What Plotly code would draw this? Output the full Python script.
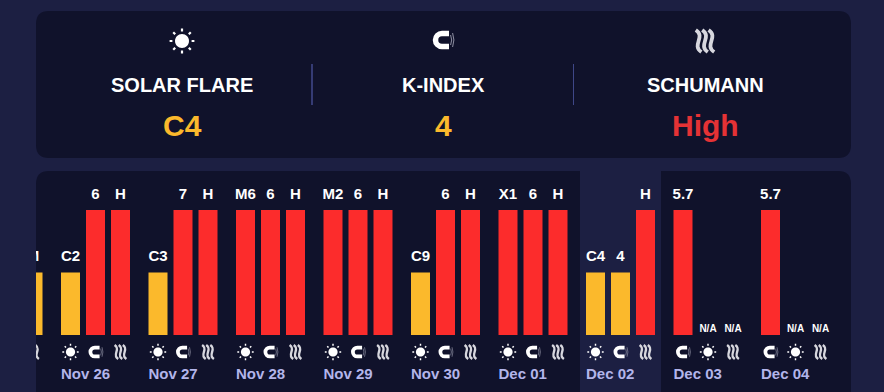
import plotly.graph_objects as go

# ---------- data ----------
days = ["Nov 26", "Nov 27", "Nov 28", "Nov 29", "Nov 30", "Dec 01", "Dec 02", "Dec 03", "Dec 04"]
flare_labels = ["C2", "C3", "M6", "M2", "C9", "X1", "C4", "N/A", "N/A"]
flare_values = [50, 50, 100, 100, 50, 100, 50, 0, 0]
k_labels = ["6", "7", "6", "6", "6", "6", "4", "5.7", "5.7"]
k_values = [100, 100, 100, 100, 100, 100, 50, 100, 100]
schumann_labels = ["H", "H", "H", "H", "H", "H", "H", "N/A", "N/A"]
schumann_values = [100, 100, 100, 100, 100, 100, 100, 0, 0]
# which metric sits in each of the three slots of a day
slot_orders = [["flare", "k", "s"]] * 7 + [["k", "flare", "s"]] * 2
# the day cut off by the left edge: only its last bar is in view
partial_day = -1
partial_label = "M"
partial_value = 50
summary_titles = ["SOLAR FLARE", "K-INDEX", "SCHUMANN"]
summary_values = ["C4", "4", "High"]
summary_colors = ["#fbb92c", "#fbb92c", "#e53235"]
today_index = 6

# ---------- style ----------
W, H = 884, 392
PAGE = "#1c1f42"
PANEL = "#10122b"
RED = "#fc2c2c"
YELLOW = "#fbb92c"
DATE = "#b3b5ea"
FONT = "Liberation Sans"
DAY_PX, SLOT_PX, BAR_PX, PX_PER_UNIT = 87.5, 25, 19, 1.25
PANEL_L, PANEL_R, PANEL_T = 36, 851, 171
BASE_Y = 335
X0 = (PANEL_L - 95.5) / DAY_PX
X1 = (PANEL_R - 95.5) / DAY_PX
Y0 = (BASE_Y - H) / PX_PER_UNIT
Y1 = (BASE_Y - PANEL_T) / PX_PER_UNIT
slot_step = SLOT_PX / DAY_PX
metrics = {
    "flare": (flare_labels, flare_values),
    "k": (k_labels, k_values),
    "s": (schumann_labels, schumann_values),
}


def fmt(v):
    return f"{v:.2f}"


def P(cmd, *pts):
    return cmd + " ".join(f"{fmt(x)} {fmt(-y)}" for x, y in pts)


def circle(cx, cy, r):
    k = 0.5523 * r
    return (P("M", (cx + r, cy))
            + P("C", (cx + r, cy + k), (cx + k, cy + r), (cx, cy + r))
            + P("C", (cx - k, cy + r), (cx - r, cy + k), (cx - r, cy))
            + P("C", (cx - r, cy - k), (cx - k, cy - r), (cx, cy - r))
            + P("C", (cx + k, cy - r), (cx + r, cy - k), (cx + r, cy)) + "Z")


def sun_shapes(s):
    d = 0.7071
    path = circle(0, 0, 7.0 * s)
    rays = ""
    for ux, uy in [(1, 0), (-1, 0), (0, 1), (0, -1), (d, d), (d, -d), (-d, d), (-d, -d)]:
        rays += P("M", (ux * 9.6 * s, uy * 9.6 * s)) + P("L", (ux * 12.4 * s, uy * 12.4 * s))
    return [
        dict(path=path, fillcolor="#ffffff", line=dict(width=0)),
        dict(path=rays, line=dict(color="#ffffff", width=2.2 * s)),
    ]


def magnet_shapes(s):
    r = 6.5 * s
    cx, e = -1.0 * s, 6 * s
    k = 0.5523 * r
    body = (P("M", (e, -r)) + P("L", (cx, -r))
            + P("C", (cx - k, -r), (cx - r, -k), (cx - r, 0))
            + P("C", (cx - r, k), (cx - k, r), (cx, r))
            + P("L", (e, r)))
    wave = (P("M", (7.6 * s, -5.0 * s)) + P("Q", (9.8 * s, 0), (7.6 * s, 5.0 * s))
            + P("M", (9.6 * s, -7 * s)) + P("Q", (12.2 * s, 0), (9.6 * s, 7 * s)))
    return [
        dict(path=body, line=dict(color="#ffffff", width=5.5 * s)),
        dict(path=wave, line=dict(color="#8f90a3", width=1.0 * s)),
    ]


def wave_shapes(s):
    path = ""
    for x in (-6.4 * s, 0, 6.4 * s):
        path += (P("M", (x - 2.8 * s, -11 * s))
                 + P("C", (x + 7.5 * s, -4 * s), (x - 7.5 * s, 4 * s), (x + 2.8 * s, 11 * s)))
    return [dict(path=path, line=dict(color="#d7d7de", width=3.8 * s))]


ICONS = {"flare": sun_shapes, "k": magnet_shapes, "s": wave_shapes}


def placed(parts, **ref):
    out = []
    for p in parts:
        q = dict(type="path", xsizemode="pixel", ysizemode="pixel", layer="above")
        q.update(ref)
        q.update(p)
        q.setdefault("fillcolor", "rgba(0,0,0,0)")
        out.append(q)
    return out


def rounded(x0, y0, x1, y1, r):
    return (P("M", (x0 + r, y0)) + P("L", (x1 - r, y0)) + P("Q", (x1, y0), (x1, y0 + r))
            + P("L", (x1, y1 - r)) + P("Q", (x1, y1), (x1 - r, y1)) + P("L", (x0 + r, y1))
            + P("Q", (x0, y1), (x0, y1 - r)) + P("L", (x0, y0 + r)) + P("Q", (x0, y0), (x0 + r, y0)) + "Z")


shapes = []
for top, bottom in [(11, 158), (PANEL_T, H + 30)]:
    shapes.append(dict(type="path", xref="paper", yref="paper", xsizemode="pixel", ysizemode="pixel",
                       xanchor=0, yanchor=1, layer="below",
                       path=rounded(PANEL_L, top, PANEL_R, bottom, 13),
                       fillcolor=PANEL, line=dict(width=0)))
for px, w, col in [(312, 1.6, "#3f4788"), (573.5, 1.0, "#3f4788")]:
    shapes.append(dict(type="line", xref="paper", yref="paper", layer="below",
                       x0=px / W, x1=px / W, y0=1 - 64 / H, y1=1 - 105 / H,
                       line=dict(color=col, width=w)))
shapes.append(dict(type="rect", xref="x", yref="paper", layer="below",
                   x0=today_index - 40.5 / DAY_PX, x1=today_index + 40.5 / DAY_PX,
                   y0=0, y1=(H - PANEL_T) / H, fillcolor=PAGE, line=dict(width=0)))

# summary icons
for cx, cy, key in [(182, 41, "flare"), (443, 40, "k"), (705, 41, "s")]:
    shapes += placed(ICONS[key](1.0), xref="paper", yref="paper", xanchor=cx / W, yanchor=1 - cy / H)

# bars, labels and day icons
bar_x, bar_y, bar_c = [], [], []
lab_x, lab_y, lab_t = [], [], []
na_x, na_y, na_t = [], [], []
icon_y = (BASE_Y - 352) / PX_PER_UNIT


def add_mark(x, value, label, key):
    if value > 0:
        bar_x.append(x)
        bar_y.append(value)
        bar_c.append(RED if value == 100 else YELLOW)
        lab_x.append(x)
        lab_y.append(value + 15 / PX_PER_UNIT)
        lab_t.append(label)
    else:
        na_x.append(x)
        na_y.append(6 / PX_PER_UNIT)
        na_t.append(label)
    scale = {"flare": 0.66, "k": 0.68, "s": 0.64}[key]
    shapes.extend(placed(ICONS[key](scale), xref="x", yref="y", xanchor=x, yanchor=icon_y))


add_mark(partial_day + slot_step, partial_value, partial_label, "s")
for i, order in enumerate(slot_orders):
    for slot, key in enumerate(order):
        labels, values = metrics[key]
        add_mark(i + (slot - 1) * slot_step, values[i], labels[i], key)

fig = go.Figure()
fig.add_trace(go.Bar(x=bar_x, y=bar_y, width=BAR_PX / DAY_PX, marker=dict(color=bar_c, line=dict(width=0)),
                     hoverinfo="skip", showlegend=False))
fig.add_trace(go.Scatter(x=lab_x, y=lab_y, text=lab_t, mode="text", textposition="middle center",
                         textfont=dict(family=FONT, size=15, color="#ffffff", weight="bold"),
                         hoverinfo="skip", showlegend=False))
fig.add_trace(go.Scatter(x=na_x, y=na_y, text=na_t, mode="text", textposition="middle center",
                         textfont=dict(family=FONT, size=10, color="#ffffff", weight="bold"),
                         hoverinfo="skip", showlegend=False))
fig.add_trace(go.Scatter(x=[i - slot_step - BAR_PX / DAY_PX / 2 for i in range(len(days))],
                         y=[(BASE_Y - 375) / PX_PER_UNIT] * len(days), text=days, mode="text",
                         textposition="middle right",
                         textfont=dict(family=FONT, size=15, color=DATE, weight="bold"),
                         hoverinfo="skip", showlegend=False))

annotations = []
for cx, title, value, col in zip([182, 443.5, 705], summary_titles, summary_values, summary_colors):
    annotations.append(dict(text=f"<b>{title}</b>", x=cx / W, y=1 - 85 / H, xref="paper", yref="paper",
                            showarrow=False, xanchor="center", yanchor="middle",
                            font=dict(family=FONT, size=20, color="#ffffff")))
    annotations.append(dict(text=f"<b>{value}</b>", x=cx / W, y=1 - 125 / H, xref="paper", yref="paper",
                            showarrow=False, xanchor="center", yanchor="middle",
                            font=dict(family=FONT, size=30, color=col)))

fig.update_layout(
    width=W, height=H, margin=dict(l=0, r=0, t=0, b=0),
    paper_bgcolor=PAGE, plot_bgcolor="rgba(0,0,0,0)",
    xaxis=dict(domain=[PANEL_L / W, PANEL_R / W], range=[X0, X1], visible=False, fixedrange=True),
    yaxis=dict(domain=[0, (H - PANEL_T) / H], range=[Y0, Y1], visible=False, fixedrange=True),
    shapes=shapes, annotations=annotations, showlegend=False,
)
fig.write_html("out.html", config={"displayModeBar": False},
               post_script="document.documentElement.style.background='#1c1f42';document.body.style.margin='0';document.documentElement.style.overflow='hidden';")
